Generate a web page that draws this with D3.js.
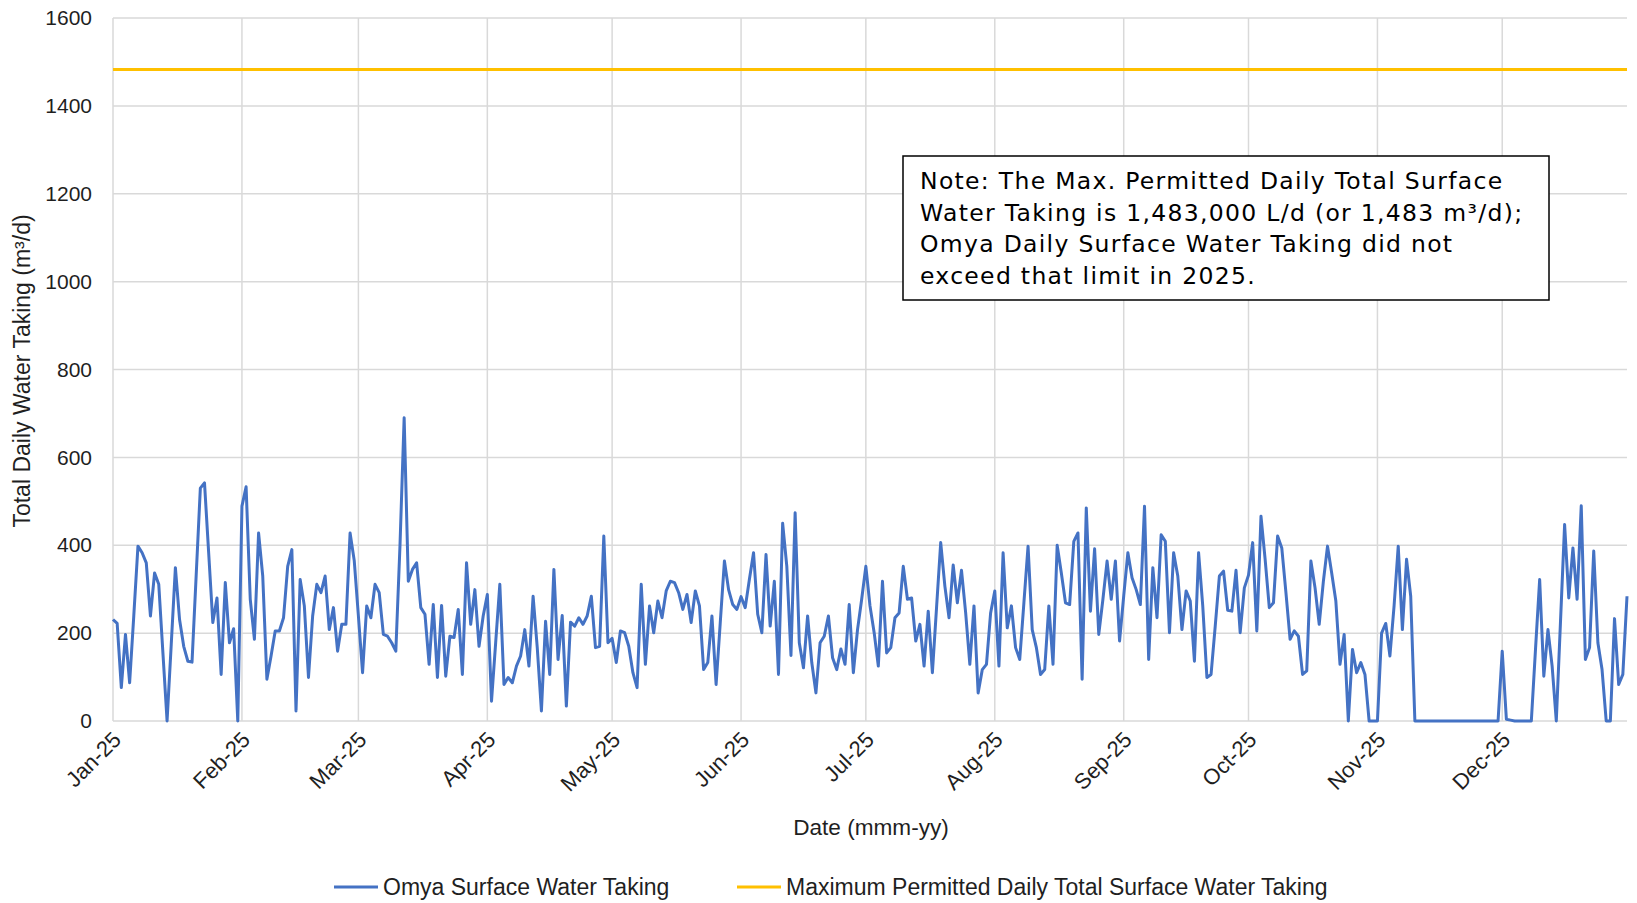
<!DOCTYPE html>
<html><head><meta charset="utf-8">
<script src="https://cdn.jsdelivr.net/npm/d3@7"></script>
<style>body{margin:0;background:#fff} svg{display:block}</style>
</head><body>
<svg id="chart" width="1637" height="903"></svg>
<script>
// ---- data ----
const jan = [231, 222, 76, 197, 87, 240, 398, 383, 360, 239, 337, 311, 155, 0, 174, 349, 231, 170, 136, 134, 332, 530, 542, 383, 224, 280, 106, 315, 178, 210, 0];
const feb = [489, 533, 277, 186, 428, 330, 95, 148, 205, 205, 235, 352, 390, 23, 322, 262, 99, 239, 311, 292, 330, 208, 258, 159, 220, 220, 428, 365];
const mar = [239, 110, 262, 235, 311, 292, 197, 193, 178, 159, 400, 690, 318, 345, 360, 258, 243, 129, 265, 99, 263, 102, 193, 190, 254, 106, 360, 220, 299, 170, 239];
const apr = [288, 45, 178, 311, 83, 99, 87, 125, 148, 208, 125, 284, 167, 23, 227, 106, 345, 140, 240, 34, 225, 216, 235, 220, 239, 284, 167, 170, 421, 178];
const may = [188, 133, 205, 201, 170, 110, 76, 311, 129, 262, 201, 273, 235, 296, 318, 315, 292, 254, 288, 224, 296, 262, 117, 133, 239, 83, 224, 364, 299, 265, 254];
const jun = [283, 258, 322, 383, 243, 201, 379, 216, 318, 106, 450, 352, 149, 474, 178, 121, 239, 133, 64, 178, 193, 239, 144, 117, 164, 129, 265, 110, 208, 277];
const jul = [352, 262, 201, 125, 318, 155, 167, 235, 246, 352, 277, 280, 182, 220, 125, 250, 110, 258, 406, 307, 235, 355, 269, 343, 246, 129, 262, 64, 117, 129, 246];
const aug = [296, 125, 383, 212, 262, 167, 140, 269, 398, 208, 167, 106, 117, 262, 129, 400, 337, 269, 265, 409, 428, 95, 485, 250, 392, 197, 277, 364, 277, 364, 182];
const sep = [285, 383, 326, 299, 265, 489, 140, 349, 235, 424, 409, 201, 383, 330, 208, 296, 273, 136, 383, 262, 99, 106, 216, 330, 341, 252, 250, 343, 201, 303];
const oct = [332, 406, 205, 466, 368, 258, 269, 421, 394, 292, 186, 205, 193, 106, 114, 364, 303, 220, 318, 398, 337, 273, 129, 197, 0, 163, 110, 133, 106, 0, 0];
const nov = [0, 200, 222, 148, 262, 398, 208, 368, 284, 0, 0, 0, 0, 0, 0, 0, 0, 0, 0, 0, 0, 0, 0, 0, 0, 0, 0, 0, 0, 0];
const dec = [159, 4, 2, 0, 0, 0, 0, 0, 163, 322, 102, 208, 125, 0, 224, 447, 280, 394, 277, 490, 140, 167, 387, 178, 117, 0, 0, 233, 83, 106, 284];

const permittedMax = 1483;
const seriesNames = ["Omya Surface Water Taking", "Maximum Permitted Daily Total Surface Water Taking"];
const xTickLabels = ["Jan-25","Feb-25","Mar-25","Apr-25","May-25","Jun-25","Jul-25","Aug-25","Sep-25","Oct-25","Nov-25","Dec-25"];
const yTicks = [0, 200, 400, 600, 800, 1000, 1200, 1400, 1600];
const xTitle = "Date (mmm-yy)";
const yTitle = "Total Daily Water Taking (m³/d)";
const noteLines = [
  "Note: The Max. Permitted Daily Total Surface",
  "Water Taking is 1,483,000 L/d (or 1,483 m³/d);",
  "Omya Daily Surface Water Taking did not",
  "exceed that limit in 2025."
];

// ---- build ----
const monthly = [jan, feb, mar, apr, may, jun, jul, aug, sep, oct, nov, dec];
const data = [];
monthly.forEach((arr, m) => arr.forEach((v, i) => data.push({date: new Date(2025, m, i + 1), value: v})));

const W = 1637, H = 903;
const margin = {left: 113, right: 10, top: 18, bottom: 182};
const svg = d3.select("#chart");
const font = "'Liberation Sans', Arial, sans-serif";
const blue = "#4472C4", gold = "#FFC000", grid = "#d9d9d9", txt = "#1f1f1f";

const x = d3.scaleTime()
  .domain([new Date(2025, 0, 1), new Date(2025, 11, 31)])
  .range([margin.left, W - margin.right]);
const y = d3.scaleLinear().domain([0, 1600]).range([H - margin.bottom, margin.top]);

const monthTicks = xTickLabels.map((_, i) => new Date(2025, i, 1));

// gridlines
const g = svg.append("g");
g.selectAll("line.h").data(yTicks).join("line")
  .attr("x1", margin.left).attr("x2", W - margin.right)
  .attr("y1", d => y(d)).attr("y2", d => y(d))
  .attr("stroke", grid).attr("stroke-width", 1.5);
g.selectAll("line.v").data(monthTicks).join("line")
  .attr("x1", d => x(d)).attr("x2", d => x(d))
  .attr("y1", y(0)).attr("y2", y(1600))
  .attr("stroke", grid).attr("stroke-width", 1.5);

// y axis
const yAxis = svg.append("g").attr("transform", `translate(${margin.left},0)`)
  .call(d3.axisLeft(y).tickValues(yTicks).tickSize(0).tickPadding(21).tickFormat(d3.format("d")));
yAxis.select(".domain").remove();
yAxis.selectAll("text").attr("font-family", font).attr("font-size", 21).attr("fill", txt);

// x axis
const xAxis = svg.append("g").attr("transform", `translate(0,${y(0)})`)
  .call(d3.axisBottom(x).tickValues(monthTicks).tickSize(0).tickFormat((d, i) => xTickLabels[i]));
xAxis.select(".domain").remove();
xAxis.selectAll("text")
  .attr("font-family", font).attr("font-size", 22).attr("fill", txt)
  .attr("text-anchor", "end")
  .attr("dy", 0).attr("y", 0)
  .attr("transform", "translate(9,20) rotate(-45)");

// lines
const line = d3.line().x(d => x(d.date)).y(d => y(d.value));
svg.append("path").datum(data)
  .attr("d", line).attr("fill", "none").attr("stroke", blue)
  .attr("stroke-width", 3).attr("stroke-linejoin", "round");
svg.append("line")
  .attr("x1", x(new Date(2025, 0, 1))).attr("x2", x(new Date(2025, 11, 31)))
  .attr("y1", y(permittedMax)).attr("y2", y(permittedMax))
  .attr("stroke", gold).attr("stroke-width", 3);

// titles
svg.append("text").attr("x", 871).attr("y", 835).attr("text-anchor", "middle")
  .attr("font-family", font).attr("font-size", 22.6).attr("fill", txt).text(xTitle);
svg.append("text").attr("transform", "translate(30,371) rotate(-90)").attr("text-anchor", "middle")
  .attr("font-family", font).attr("font-size", 23).attr("fill", txt).text(yTitle);

// legend
const leg = svg.append("g");
const legItems = [{name: seriesNames[0], color: blue, x: 334}, {name: seriesNames[1], color: gold, x: 737}];
legItems.forEach(it => {
  leg.append("line").attr("x1", it.x).attr("x2", it.x + 44).attr("y1", 887).attr("y2", 887)
    .attr("stroke", it.color).attr("stroke-width", 3);
  leg.append("text").attr("x", it.x + 49).attr("y", 895).attr("font-family", font)
    .attr("font-size", 23).attr("fill", txt).text(it.name);
});

// note box
const note = svg.append("g");
note.append("rect").attr("x", 903).attr("y", 156).attr("width", 646).attr("height", 144)
  .attr("fill", "#fff").attr("stroke", "#000").attr("stroke-width", 1.5);
note.selectAll("text").data(noteLines).join("text")
  .attr("x", 920).attr("y", (d, i) => 189 + i * 31.5)
  .attr("font-family", "'DejaVu Sans', sans-serif").attr("font-size", 23.5)
  .attr("letter-spacing", 1.3)
  .attr("fill", "#000").text(d => d);
</script>
</body></html>
